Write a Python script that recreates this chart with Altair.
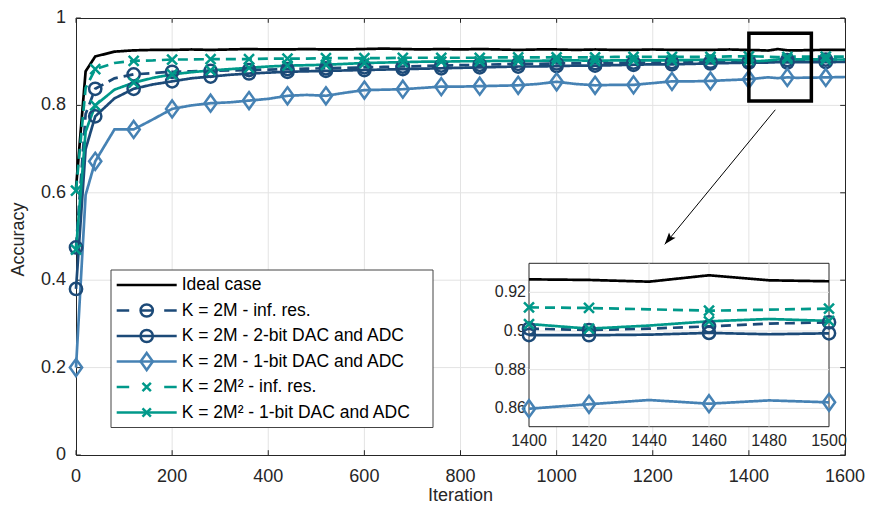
import altair as alt
import pandas as pd

FONT = "Liberation Sans"
TEXT = "#262626"
GRID = "#e3e3e3"

SERIES = ["Ideal case", "K = 2M - inf. res.", "K = 2M - 2-bit DAC and ADC",
          "K = 2M - 1-bit DAC and ADC", "K = 2M² - inf. res.", "K = 2M² - 1-bit DAC and ADC"]
COLORS = ["#000000", "#1C4A78", "#1C4A78", "#4682B4", "#00998A", "#00998A"]
DASHES = [[1, 0], [10, 6], [1, 0], [1, 0], [10, 6], [1, 0]]
MARKERS = ["none", "circle", "circle", "diamond", "x", "x"]

ITER = [0, 20, 40, 80, 120, 160, 200, 240, 280, 320, 360, 400, 440, 480, 520, 560, 600,
        640, 680, 720, 760, 800, 840, 880, 920, 960, 1000, 1040, 1080, 1120, 1160, 1200,
        1240, 1280, 1320, 1360, 1400, 1440, 1480, 1520, 1560, 1600]
ideal = [0.610, 0.878, 0.912, 0.923, 0.926, 0.927, 0.927, 0.928, 0.927, 0.928, 0.929, 0.928,
         0.928, 0.929, 0.928, 0.928, 0.929, 0.930, 0.929, 0.928, 0.929, 0.928, 0.929, 0.928,
         0.927, 0.928, 0.928, 0.927, 0.928, 0.927, 0.927, 0.928, 0.927, 0.927, 0.927, 0.928,
         0.9267, 0.9255, 0.9262, 0.9265, 0.927, 0.927]
inf_2m = [0.475, 0.780, 0.838, 0.862, 0.871, 0.874, 0.877, 0.878, 0.879, 0.880, 0.881, 0.882,
          0.883, 0.884, 0.885, 0.886, 0.887, 0.888, 0.889, 0.890, 0.891, 0.892, 0.893, 0.894,
          0.895, 0.895, 0.896, 0.896, 0.897, 0.897, 0.898, 0.898, 0.899, 0.899, 0.900, 0.900,
          0.9012, 0.9012, 0.9038, 0.9045, 0.905, 0.905]
bit2_2m = [0.380, 0.700, 0.775, 0.816, 0.838, 0.848, 0.855, 0.862, 0.866, 0.870, 0.873, 0.875,
           0.877, 0.878, 0.879, 0.880, 0.881, 0.882, 0.883, 0.884, 0.885, 0.886, 0.887, 0.888,
           0.889, 0.889, 0.890, 0.891, 0.891, 0.892, 0.893, 0.894, 0.894, 0.895, 0.896, 0.897,
           0.8979, 0.8981, 0.8983, 0.8988, 0.899, 0.8995]
bit1_2m = [0.200, 0.595, 0.672, 0.745, 0.745, 0.768, 0.792, 0.800, 0.805, 0.807, 0.811, 0.815,
           0.822, 0.824, 0.822, 0.829, 0.835, 0.836, 0.837, 0.840, 0.843, 0.843, 0.844, 0.845,
           0.846, 0.849, 0.854, 0.849, 0.846, 0.847, 0.847, 0.851, 0.855, 0.855, 0.856, 0.858,
           0.8598, 0.8643, 0.8641, 0.8635, 0.864, 0.865]
inf_2m2 = [0.605, 0.840, 0.883, 0.897, 0.902, 0.903, 0.905, 0.905, 0.906, 0.906, 0.906, 0.907,
           0.907, 0.907, 0.908, 0.908, 0.908, 0.908, 0.909, 0.909, 0.909, 0.909, 0.909, 0.910,
           0.910, 0.910, 0.910, 0.910, 0.910, 0.911, 0.911, 0.911, 0.911, 0.911, 0.911, 0.912,
           0.9122, 0.9112, 0.9110, 0.9115, 0.9115, 0.9115]
bit1_2m2 = [0.470, 0.740, 0.800, 0.836, 0.852, 0.863, 0.871, 0.876, 0.880, 0.883, 0.886, 0.889,
            0.891, 0.892, 0.893, 0.895, 0.897, 0.898, 0.899, 0.900, 0.900, 0.901, 0.901, 0.902,
            0.902, 0.902, 0.903, 0.903, 0.902, 0.903, 0.903, 0.903, 0.903, 0.904, 0.904, 0.904,
            0.9036, 0.9028, 0.9062, 0.9055, 0.905, 0.905]
MARKER_ITER = [0, 40, 120, 200, 280, 360, 440, 520, 600, 680, 760, 840, 920, 1000, 1080,
               1160, 1240, 1320, 1400, 1480, 1560]

INSET_ITER = [1400, 1420, 1440, 1460, 1480, 1500]
ideal_in = [0.9267, 0.9264, 0.9255, 0.9288, 0.9262, 0.9257]
inf_2m_in = [0.9012, 0.9005, 0.9012, 0.9024, 0.9038, 0.9045]
bit2_2m_in = [0.8979, 0.8978, 0.8981, 0.8990, 0.8983, 0.8988]
bit1_2m_in = [0.8598, 0.8621, 0.8643, 0.8624, 0.8641, 0.8631]
inf_2m2_in = [0.9122, 0.9119, 0.9112, 0.9105, 0.9110, 0.9116]
bit1_2m2_in = [0.9036, 0.9012, 0.9028, 0.9050, 0.9062, 0.9052]
INSET_MARKER_ITER = [1400, 1420, 1460, 1500]

X_TICKS = [0, 200, 400, 600, 800, 1000, 1200, 1400, 1600]
X_LABELS = ["0", "200", "400", "600", "800", "1000", "1200", "1400", "1600"]
Y_TICKS = [0, 0.2, 0.4, 0.6, 0.8, 1]
Y_LABELS = ["0", "0.2", "0.4", "0.6", "0.8", "1"]
INSET_X_TICKS = [1400, 1420, 1440, 1460, 1480, 1500]
INSET_X_LABELS = ["1400", "1420", "1440", "1460", "1480", "1500"]
INSET_Y_TICKS = [0.86, 0.88, 0.9, 0.92]
INSET_Y_LABELS = ["0.86", "0.88", "0.9", "0.92"]
X_DOMAIN = [0, 1600]
Y_DOMAIN = [0, 1]
INSET_X_DOMAIN = [1400, 1500]
INSET_Y_DOMAIN = [0.8505, 0.935]
ZOOM_BOX_X = [1400, 1530]
ZOOM_BOX_Y = [0.81, 0.965]
ARROW_FROM = [1455, 0.79]
ARROW_TO = [1225, 0.482]
TICK_LEN_X = 10   # inward tick length in iteration units
TICK_LEN_Y = 0.011  # inward tick length in accuracy units

W, H = 769, 437


def table(iters, arrays):
    rows = []
    for name, vals, mk in zip(SERIES, arrays, MARKERS):
        for it, v in zip(iters, vals):
            rows.append({"iteration": it, "accuracy": v, "series": name, "marker": mk})
    return pd.DataFrame(rows)


main_df = table(ITER, [ideal, inf_2m, bit2_2m, bit1_2m, inf_2m2, bit1_2m2])
inset_df = table(INSET_ITER, [ideal_in, inf_2m_in, bit2_2m_in, bit1_2m_in, inf_2m2_in, bit1_2m2_in])
full_df = (pd.concat([main_df, inset_df])
           .drop_duplicates(["series", "iteration"])
           .sort_values(["series", "iteration"]))

color_scale = alt.Scale(domain=SERIES, range=COLORS)
dash_scale = alt.Scale(domain=SERIES, range=DASHES)
COLOR = alt.Color("series:N", scale=color_scale, legend=None)

CIRCLE = "circle"
DIAMOND = "M0,-1L0.72,0L0,1L-0.72,0Z"
XMARK = "M-1,-1L1,1M-1,1L1,-1"
ARROW_HEAD = "M0,0L0.7,2L0,1.6L-0.7,2Z"

xs = alt.Scale(domain=X_DOMAIN, nice=False, zero=False)
ys = alt.Scale(domain=Y_DOMAIN, nice=False, zero=False)


def X(field, scale):
    return alt.X(field, scale=scale, axis=None)


def Y(field, scale):
    return alt.Y(field, scale=scale, axis=None)


# ---------------- main panel ----------------
grid_x = alt.Chart(pd.DataFrame({"v": X_TICKS[1:-1]})).mark_rule(color=GRID, strokeWidth=1).encode(
    x=X("v:Q", xs), y=alt.Y(datum=Y_DOMAIN[0], scale=ys, axis=None), y2=alt.Y2(datum=Y_DOMAIN[1]))
grid_y = alt.Chart(pd.DataFrame({"v": Y_TICKS[1:-1]})).mark_rule(color=GRID, strokeWidth=1).encode(
    y=Y("v:Q", ys), x=alt.X(datum=X_DOMAIN[0], scale=xs, axis=None), x2=alt.X2(datum=X_DOMAIN[1]))

tick_df_x = pd.DataFrame({"v": X_TICKS})
tick_df_y = pd.DataFrame({"v": Y_TICKS})
ticks = [
    alt.Chart(tick_df_x).mark_rule(color=TEXT, strokeWidth=1).encode(
        x=X("v:Q", xs), y=alt.Y(datum=Y_DOMAIN[0], scale=ys, axis=None),
        y2=alt.Y2(datum=Y_DOMAIN[0] + TICK_LEN_Y)),
    alt.Chart(tick_df_x).mark_rule(color=TEXT, strokeWidth=1).encode(
        x=X("v:Q", xs), y=alt.Y(datum=Y_DOMAIN[1], scale=ys, axis=None),
        y2=alt.Y2(datum=Y_DOMAIN[1] - TICK_LEN_Y)),
    alt.Chart(tick_df_y).mark_rule(color=TEXT, strokeWidth=1).encode(
        y=Y("v:Q", ys), x=alt.X(datum=X_DOMAIN[0], scale=xs, axis=None),
        x2=alt.X2(datum=X_DOMAIN[0] + TICK_LEN_X)),
    alt.Chart(tick_df_y).mark_rule(color=TEXT, strokeWidth=1).encode(
        y=Y("v:Q", ys), x=alt.X(datum=X_DOMAIN[1], scale=xs, axis=None),
        x2=alt.X2(datum=X_DOMAIN[1] - TICK_LEN_X)),
]

xlab = alt.Chart(pd.DataFrame({"v": X_TICKS, "t": X_LABELS})).mark_text(
    font=FONT, fontSize=18, color=TEXT, align="center", baseline="middle", dy=22
).encode(x=X("v:Q", xs), y=alt.Y(datum=Y_DOMAIN[0], scale=ys, axis=None), text="t:N")
ylab = alt.Chart(pd.DataFrame({"v": Y_TICKS, "t": Y_LABELS})).mark_text(
    font=FONT, fontSize=18, color=TEXT, align="right", baseline="middle", dx=-10
).encode(y=Y("v:Q", ys), x=alt.X(datum=X_DOMAIN[0], scale=xs, axis=None), text="t:N")

xtitle = alt.Chart(pd.DataFrame({"t": ["Iteration"]})).mark_text(
    font=FONT, fontSize=18, color=TEXT, align="center", baseline="bottom"
).encode(x=alt.value(W / 2), y=alt.value(H + 50), text="t:N")
ytitle = alt.Chart(pd.DataFrame({"t": ["Accuracy"]})).mark_text(
    font=FONT, fontSize=18, color=TEXT, align="center", baseline="middle", angle=270
).encode(x=alt.value(-57), y=alt.value(H / 2 + 3), text="t:N")

lines = alt.Chart(full_df).mark_line(strokeWidth=2.7).encode(
    x=X("iteration:Q", xs), y=Y("accuracy:Q", ys), color=COLOR,
    strokeDash=alt.StrokeDash("series:N", scale=dash_scale, legend=None),
    order="iteration:Q",
)

mk_df = main_df[main_df["iteration"].isin(MARKER_ITER)]


def markers(df, kind, shape, size, xscale, yscale):
    return alt.Chart(df[df["marker"] == kind]).mark_point(
        shape=shape, size=size, filled=False, strokeWidth=2.5, opacity=1
    ).encode(x=X("iteration:Q", xscale), y=Y("accuracy:Q", yscale), color=COLOR)


box = alt.Chart(pd.DataFrame({"x": [ZOOM_BOX_X[0]], "x2": [ZOOM_BOX_X[1]],
                              "y": [ZOOM_BOX_Y[0]], "y2": [ZOOM_BOX_Y[1]]})).mark_rect(
    fillOpacity=0, stroke="black", strokeWidth=3.5
).encode(x=X("x:Q", xs), x2="x2", y=Y("y:Q", ys), y2="y2")

arrow_line = alt.Chart(pd.DataFrame({"x": [ARROW_FROM[0]], "y": [ARROW_FROM[1]],
                                     "x2": [ARROW_TO[0]], "y2": [ARROW_TO[1]]})).mark_rule(
    color="black", strokeWidth=1
).encode(x=X("x:Q", xs), x2="x2", y=Y("y:Q", ys), y2="y2")

arrow_head = alt.Chart(pd.DataFrame({"x": [ARROW_TO[0]], "y": [ARROW_TO[1]]})).mark_point(
    shape=ARROW_HEAD, size=144, filled=True, color="black", opacity=1, angle=219
).encode(x=X("x:Q", xs), y=Y("y:Q", ys))

main = alt.layer(
    grid_x, grid_y, *ticks, xlab, ylab, xtitle, ytitle,
    lines,
    markers(mk_df, "circle", CIRCLE, 150, xs, ys),
    markers(mk_df, "diamond", DIAMOND, 289, xs, ys),
    markers(mk_df, "x", XMARK, 100, xs, ys),
    box, arrow_line, arrow_head,
)

# ---------------- inset ----------------
ix = alt.Scale(domain=INSET_X_DOMAIN, range=[453, 753], nice=False, zero=False)
iy = alt.Scale(domain=INSET_Y_DOMAIN, range=[408.7, 245.3], nice=False, zero=False)

inset_bg = alt.Chart(pd.DataFrame({"x": [INSET_X_DOMAIN[0]], "x2": [INSET_X_DOMAIN[1]],
                                   "y": [INSET_Y_DOMAIN[0]], "y2": [INSET_Y_DOMAIN[1]]})).mark_rect(
    fill="white", stroke=TEXT, strokeWidth=1
).encode(x=X("x:Q", ix), x2="x2", y=Y("y:Q", iy), y2="y2")

igrid_v = alt.Chart(pd.DataFrame({"x": INSET_X_TICKS[1:-1]})).mark_rule(color=GRID, strokeWidth=1).encode(
    x=X("x:Q", ix), y=alt.Y(datum=INSET_Y_DOMAIN[0], scale=iy, axis=None),
    y2=alt.Y2(datum=INSET_Y_DOMAIN[1]))
igrid_h = alt.Chart(pd.DataFrame({"y": INSET_Y_TICKS})).mark_rule(color=GRID, strokeWidth=1).encode(
    y=Y("y:Q", iy), x=alt.X(datum=INSET_X_DOMAIN[0], scale=ix, axis=None),
    x2=alt.X2(datum=INSET_X_DOMAIN[1]))

inset_xlab = alt.Chart(pd.DataFrame({"x": INSET_X_TICKS, "t": INSET_X_LABELS})).mark_text(
    fontSize=16, font=FONT, color=TEXT, baseline="middle", align="center", dy=14
).encode(x=X("x:Q", ix), y=alt.Y(datum=INSET_Y_DOMAIN[0], scale=iy, axis=None), text="t:N")
inset_ylab = alt.Chart(pd.DataFrame({"y": INSET_Y_TICKS, "t": INSET_Y_LABELS})).mark_text(
    fontSize=16, font=FONT, color=TEXT, baseline="middle", align="right", dx=-3
).encode(y=Y("y:Q", iy), x=alt.X(datum=INSET_X_DOMAIN[0], scale=ix, axis=None), text="t:N")

inset_lines = alt.Chart(inset_df).mark_line(strokeWidth=2.7).encode(
    x=X("iteration:Q", ix), y=Y("accuracy:Q", iy), color=COLOR,
    strokeDash=alt.StrokeDash("series:N", scale=dash_scale, legend=None),
    order="iteration:Q",
)

imk_df = inset_df[inset_df["iteration"].isin(INSET_MARKER_ITER)]

inset = alt.layer(
    inset_bg, igrid_v, igrid_h, inset_xlab, inset_ylab, inset_lines,
    markers(imk_df, "circle", CIRCLE, 150, ix, iy),
    markers(imk_df, "diamond", DIAMOND, 289, ix, iy),
    markers(imk_df, "x", XMARK, 100, ix, iy),
)

# ---------------- legend (rows placed by a point scale over the series) ----------------
leg_df = pd.DataFrame({"series": SERIES, "marker": MARKERS})
leg_y = alt.Y("series:N", scale=alt.Scale(type="point", domain=SERIES, range=[267, 394.5],
                                           padding=0), axis=None)
SOLID = [SERIES[0], SERIES[2], SERIES[3], SERIES[5]]

leg_box = alt.Chart(pd.DataFrame({"a": [0]})).mark_rect(
    fill="white", stroke="#444444", strokeWidth=1
).encode(x=alt.value(35), x2=alt.value(357), y=alt.value(252), y2=alt.value(409.5))

leg_solid = alt.Chart(leg_df[leg_df["series"].isin(SOLID)]).mark_rule(strokeWidth=2.7).encode(
    x=alt.value(40.7), x2=alt.value(100.7), y=leg_y, color=COLOR)
leg_dash_o = alt.Chart(leg_df[leg_df["series"] == SERIES[1]]).mark_rule(
    strokeWidth=2.7, strokeDash=[12.5, 11, 13, 11, 12.5, 0]).encode(
    x=alt.value(40.7), x2=alt.value(100.7), y=leg_y, color=COLOR)
leg_dash_x = alt.Chart(leg_df[leg_df["series"] == SERIES[4]]).mark_rule(
    strokeWidth=2.7, strokeDash=[12.5, 35, 12.5, 0]).encode(
    x=alt.value(40.7), x2=alt.value(100.7), y=leg_y, color=COLOR)


def leg_marker(kind, shape, size):
    return alt.Chart(leg_df[leg_df["marker"] == kind]).mark_point(
        shape=shape, size=size, filled=False, strokeWidth=2.5, opacity=1
    ).encode(x=alt.value(70.7), y=leg_y, color=COLOR)


leg_text = alt.Chart(leg_df).mark_text(
    font=FONT, fontSize=17.5, color="#000000", align="left", baseline="middle"
).encode(x=alt.value(105.7), y=leg_y, text="series:N")

legend = alt.layer(
    leg_box, leg_solid, leg_dash_o, leg_dash_x,
    leg_marker("circle", CIRCLE, 150),
    leg_marker("diamond", DIAMOND, 289),
    leg_marker("x", XMARK, 70),
    leg_text,
)

chart = alt.layer(main, inset, legend).resolve_scale(
    x="independent", y="independent"
).properties(
    width=W, height=H, autosize="none",
    padding={"left": 68, "top": 10, "right": 20, "bottom": 51},
).configure(font=FONT).configure_view(stroke=TEXT, strokeWidth=1)

chart.save("out.html", embed_options={"renderer": "svg", "actions": False})
